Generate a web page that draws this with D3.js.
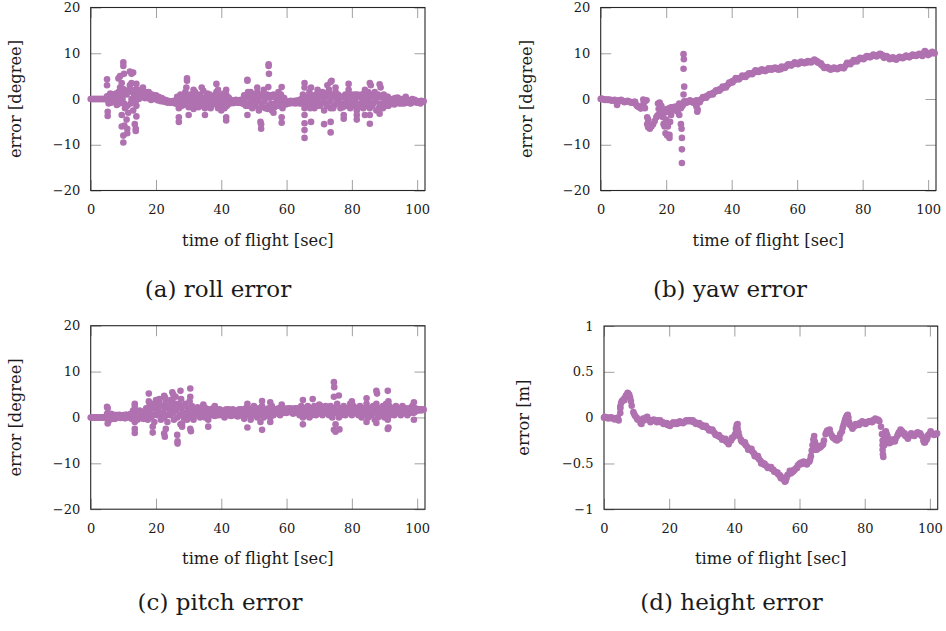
<!DOCTYPE html>
<html>
<head>
<meta charset="utf-8">
<script src="https://cdn.jsdelivr.net/npm/d3@7"></script>
<style>
  body { margin: 0; background: #fff; }
  svg text { font-family: "DejaVu Serif", serif; fill: #1a1a1a; }
  .tick line { stroke: #a0a0a0; stroke-width: 1; }
  .domain { display: none; }
  .dot { fill: #b071b0; }
</style>
</head>
<body>
<script>
// ---- data ----
var xTicks = [0, 20, 40, 60, 80, 100];
var degTicks = [-20, -10, 0, 10, 20];
var meterTicks = [-1, -0.5, 0, 0.5, 1];

// roll error [degree] : main band (two interleaved passes) + outliers
var rollBand = [
  [0,0],[0.5,0],[1,0],[1.5,0],[2,0],[2.5,0],[3,0],[3.5,0],[4,0],[4.5,0],
  [5,0.6],[5.5,-1],[6,1.2],[6.5,-0.5],[7,1],[7.5,0.2],[8,-1.3],[8.5,1.5],[9,2.5],[9.5,-0.8],
  [10,2.2],[10.5,-2],[11,1],[11.5,-3],[12,3],[12.5,0],[13,-2.5],[13.5,2],[14,-1.5],[14.5,1],
  [15,1.8],[15.5,0.5],[16,2],[16.5,0.2],[17,1],[17.5,0.6],[18,1.2],[18.5,-0.2],[19,0.8],[19.5,0],
  [20,0.8],[20.5,-0.3],[21,0.3],[21.5,-0.5],[22,0],[22.5,-0.6],[23,-0.3],[23.5,-0.8],[24,-0.5],[24.5,-0.7],
  [25,-0.8],[25.5,-0.4],[26,-1],[26.5,0.5],[27,-2],[27.5,1],[28,-1.5],[28.5,0],[29,1.5],[29.5,-1],
  [30,-1.8],[30.5,1],[31,-0.5],[31.5,-2.2],[32,1.5],[32.5,0],[33,-1.8],[33.5,1],[34,-1],[34.5,1.8],
  [35,-2],[35.5,0.5],[36,-1],[36.5,1],[37,-1.5],[37.5,0],[38,-0.5],[38.5,1.5],[39,-2],[39.5,0.8],
  [40,-1.5],[40.5,0.5],[41,-2],[41.5,1],[42,-1],[42.5,0],[43,-0.8],[43.5,-0.3],[44,-0.6],[44.5,-0.2],
  [45,-0.5],[45.5,-0.8],[46,-0.2],[46.5,-1],[47,0.8],[47.5,-1.5],[48,0.5],[48.5,-1],[49,1.5],[49.5,-2],
  [50,0],[50.5,-1.5],[51,1.5],[51.5,-2.5],[52,0.5],[52.5,-1],[53,2],[53.5,-2],[54,1],[54.5,-1.5],
  [55,0.8],[55.5,-2.5],[56,1],[56.5,-1],[57,-0.5],[57.5,1.5],[58,-1.5],[58.5,0.5],[59,-1],[59.5,-0.5],
  [60,-0.8],[60.5,-0.5],[61,-1],[61.5,-0.6],[62,-0.9],[62.5,-0.4],[63,-0.7],[63.5,-0.3],[64,-1],[64.5,0],
  [65,1],[65.5,-2],[66,0.5],[66.5,-1.5],[67,1.5],[67.5,-1],[68,0],[68.5,-2],[69,1],[69.5,-1.5],
  [70,0.5],[70.5,-1],[71,1.5],[71.5,-2.5],[72,0.5],[72.5,-1],[73,2],[73.5,-2],[74,1],[74.5,-1.5],
  [75,1.5],[75.5,-1],[76,0],[76.5,-2],[77,0.5],[77.5,-1],[78,1],[78.5,-1.5],[79,0.5],[79.5,-2],
  [80,1],[80.5,-1.5],[81,0],[81.5,-2.5],[82,0.5],[82.5,-1],[83,1],[83.5,-2],[84,0],[84.5,-1.5],
  [85,1.5],[85.5,-2],[86,0.5],[86.5,-1],[87,1.5],[87.5,-2.5],[88,1],[88.5,-1],[89,0.5],[89.5,-2],
  [90,0],[90.5,-1.5],[91,0.5],[91.5,-1],[92,-0.5],[92.5,0],[93,-1.2],[93.5,-0.5],[94,0.3],[94.5,-1],
  [95,-0.5],[95.5,0],[96,-1],[96.5,0.5],[97,-0.8],[97.5,-0.3],[98,-1],[98.5,0],[99,-0.6],[99.5,-0.4],
  [100,-0.8],[100.5,-0.5],[101,-1],[101.5,-0.6],[102,-0.5]
];
var rollBand2 = [
  [0.25,0],[0.75,0],[1.25,0],[1.75,0],[2.25,0],[2.75,0],[3.25,0],[3.75,0],[4.25,0],[4.75,0],
  [5.25,-0.3],[5.75,0.8],[6.25,-0.8],[6.75,0.5],[7.25,-0.5],[7.75,1.2],[8.25,0.3],[8.75,-1],[9.25,1],[9.75,0],
  [10.25,-1],[10.75,1.5],[11.25,-1.5],[11.75,2],[12.25,-1],[12.75,1.5],[13.25,0.5],[13.75,-0.5],[14.25,2],[14.75,0],
  [15.25,1],[15.75,2.2],[16.25,0.8],[16.75,1.5],[17.25,0.2],[17.75,1.5],[18.25,0.4],[18.75,1],[19.25,0.2],[19.75,0.5],
  [20.25,0],[20.75,0.5],[21.25,-0.2],[21.75,0.2],[22.25,-0.4],[22.75,-0.2],[23.25,-0.6],[23.75,-0.4],[24.25,-0.8],[24.75,-0.5],
  [25.25,-0.6],[25.75,-0.9],[26.25,-0.3],[26.75,-1.2],[27.25,0],[27.75,-1],[28.25,0.5],[28.75,-1.2],[29.25,-0.3],[29.75,0.8],
  [30.25,-0.5],[30.75,-1.2],[31.25,0.5],[31.75,-0.8],[32.25,-1.5],[32.75,0.8],[33.25,-0.3],[33.75,-1.5],[34.25,0.3],[34.75,-0.8],
  [35.25,-1.2],[35.75,1.2],[36.25,0],[36.75,-2],[37.25,0.5],[37.75,-1],[38.25,0.8],[38.75,-1.2],[39.25,0],[39.75,-1],
  [40.25,-0.5],[40.75,1.2],[41.25,-0.5],[41.75,-1.5],[42.25,0.3],[42.75,-1],[43.25,-0.5],[43.75,-0.9],[44.25,-0.4],[44.75,-0.8],
  [45.25,-0.3],[45.75,-0.6],[46.25,-0.9],[46.75,0],[47.25,-0.8],[47.75,0.5],[48.25,-1.5],[48.75,0.3],[49.25,-0.5],[49.75,1],
  [50.25,-1],[50.75,0.8],[51.25,-0.5],[51.75,1],[52.25,-1.8],[52.75,1],[53.25,-0.5],[53.75,0.5],[54.25,-2.2],[54.75,0.3],
  [55.25,-1],[55.75,0.5],[56.25,-1.8],[56.75,0.5],[57.25,-1.5],[57.75,-0.3],[58.25,1],[58.75,-2],[59.25,0.2],[59.75,-1.2],
  [60.25,-0.6],[60.75,-0.9],[61.25,-0.4],[61.75,-0.8],[62.25,-0.6],[62.75,-1],[63.25,-0.5],[63.75,-0.8],[64.25,-0.2],[64.75,-1],
  [65.25,-0.5],[65.75,0.5],[66.25,-1],[66.75,0],[67.25,-2],[67.75,0.8],[68.25,-1],[68.75,0.5],[69.25,-0.5],[69.75,0.5],
  [70.25,-1.5],[70.75,0.8],[71.25,-0.5],[71.75,1],[72.25,-1.5],[72.75,1.5],[73.25,-0.5],[73.75,0.5],[74.25,-2],[74.75,0.5],
  [75.25,-0.5],[75.75,1],[76.25,-1],[76.75,0.5],[77.25,-1.8],[77.75,0.3],[78.25,-0.5],[78.75,1],[79.25,-1],[79.75,0.5],
  [80.25,-0.5],[80.75,0.5],[81.25,-1],[81.75,1],[82.25,-1.8],[82.75,0.5],[83.25,-0.5],[83.75,1.2],[84.25,-1],[84.75,0.5],
  [85.25,-0.5],[85.75,1],[86.25,-1.5],[86.75,0.8],[87.25,-0.5],[87.75,0.5],[88.25,-2],[88.75,0.5],[89.25,-1],[89.75,1],
  [90.25,-0.8],[90.75,0.5],[91.25,-1.5],[91.75,0],[92.25,-1],[92.75,-0.5],[93.25,0.2],[93.75,-0.8],[94.25,-0.4],[94.75,0],
  [95.25,-1],[95.75,-0.4],[96.25,-0.6],[96.75,0],[97.25,-0.5],[97.75,-0.9],[98.25,-0.4],[98.75,-0.7],[99.25,-0.2],[99.75,-0.7],
  [100.25,-0.5],[100.75,-0.7],[101.25,-0.4],[101.75,-0.6]
];
var rollOutliers = [
  [5,4.3],[5,3],[5.2,-2.8],[5.2,-3.7],[8.5,4.5],[9,5],[9.5,3.5],[9.5,-3.5],[10,8],[10,7.2],
  [10.2,5.5],[10,-9.5],[10,-8],[10.3,-5.8],[9.5,-6],[11,-4.5],[11.2,-6.5],[11.2,-7.5],[12,6],[12.5,5.5],
  [13,5.8],[12.5,3.5],[13.5,-5.5],[13.8,-6.5],[13.8,-7],[14,-3.8],[14,3.3],[16,2.5],
  [27,-5],[27,-4],[29.5,4.5],[29.5,4],[29.3,2.5],[30,-3.5],[31.5,2],[34,2.5],[35,-3.5],[38.5,3.3],
  [39,2],[40,-2.5],[41.5,-4.7],[41.5,-4],[41.5,2],
  [48,4.2],[48,4],[48.2,1.5],[48,-3.5],[51,2.5],[52,-5],[52.2,-6.5],[52.2,-5.5],[54.5,7.6],[54.5,7.2],
  [54.6,5.5],[54.4,2.6],[56,-3],[58.5,2.6],[58.5,-5.2],[58.5,-4],
  [65.5,3.5],[65.5,2.5],[65.5,-3.5],[65.5,-5.3],[65.5,-6.8],[65.5,-8.5],[67.5,-5],[67.5,2.5],[69.5,2],
  [71.5,-5.5],[72.5,3],[73.5,-5],[73.5,-7.3],[73.8,4],[73.5,3.7],[75,2.5],[77.5,-4.3],[77.5,-3.5],
  [79,3.3],[79,2],[81.5,-4.5],[81.5,-3.5],[81,1],[84,-3.5],[84,2],[85.5,3.5],[85.8,3],[85.5,-5.4],
  [85.5,-3.5],[88.5,3.2],[88.8,2.5],[88.5,-3.2]
];

// yaw error [degree] : trace, its other edge, outliers
var yawTrace = [
  [0,0],[0.5,0],[1,-0.1],[1.5,-0.1],[2,-0.2],[2.5,-0.2],[3,-0.2],[3.5,-0.3],[4,-0.3],[4.5,-0.4],
  [5,-0.8],[5.5,-0.3],[6,-0.4],[6.5,-0.4],[7,-0.5],[7.5,-0.5],[8,-0.5],[8.5,-0.6],[9,-0.6],[9.5,-0.7],
  [10,-0.8],[10.5,-1],[11,-1.4],[11.5,-1.7],[12,-1.9],[12.5,-1.8],[13,-1.2],[13.5,-0.5],[14,-0.3],[14.5,-4.5],
  [15,-5.8],[15.5,-6],[16,-5.5],[16.5,-4.8],[17,-4],[17.5,-3.5],[18,-1],[18.5,-1.5],[19,-2.5],[19.5,-3],
  [20,-2.2],[20.5,-2.8],[21,-2],[21.5,-1.8],[22,-1.8],[22.5,-1.7],[23,-1.7],[23.5,-1.6],[24,-1.5],[24.5,-2],
  [25,-1.5],[25.5,-1],[26,-0.6],[26.5,-0.5],[27,-0.5],[27.5,-0.6],[28,-0.5],[28.5,-0.6],[29,-0.5],[29.5,-1],
  [30,-0.5],[30.5,-0.2],[31,0.1],[31.5,0.3],[32,0.5],[32.5,0.7],[33,0.8],[33.5,1],[34,1.2],[34.5,1.4],
  [35,1.6],[35.5,1.8],[36,2],[36.5,2.2],[37,2.3],[37.5,2.5],[38,2.7],[38.5,2.9],[39,3.2],[39.5,3.5],
  [40,3.8],[40.5,4],[41,4.2],[41.5,4.3],[42,4.5],[42.5,4.6],[43,4.8],[43.5,4.9],[44,5],[44.5,5.2],
  [45,5.3],[45.5,5.5],[46,5.6],[46.5,5.7],[47,5.9],[47.5,6],[48,6.1],[48.5,6.2],[49,6.2],[49.5,6.3],
  [50,6.3],[50.5,6.3],[51,6.4],[51.5,6.5],[52,6.6],[52.5,6.7],[53,6.6],[53.5,6.6],[54,6.7],[54.5,6.7],
  [55,6.5],[55.5,6.8],[56,7],[56.5,7.1],[57,7.3],[57.5,7.4],[58,7.5],[58.5,7.6],[59,7.7],[59.5,7.8],
  [60,7.8],[60.5,7.9],[61,7.9],[61.5,8],[62,8],[62.5,8],[63,8],[63.5,8.1],[64,8.2],[64.5,8.2],
  [65,8.3],[65.5,8.4],[66,8.3],[66.5,8],[67,7.7],[67.5,7.4],[68,7.1],[68.5,6.9],[69,6.8],[69.5,6.7],
  [70,6.6],[70.5,6.6],[71,6.6],[71.5,6.7],[72,6.7],[72.5,6.7],[73,6.8],[73.5,6.8],[74,6.9],[74.5,7.1],
  [75,7.5],[75.5,7.7],[76,7.8],[76.5,8],[77,8.1],[77.5,8.3],[78,8.4],[78.5,8.6],[79,8.7],[79.5,8.8],
  [80,8.9],[80.5,9],[81,9.1],[81.5,9.2],[82,9.3],[82.5,9.3],[83,9.4],[83.5,9.5],[84,9.5],[84.5,9.6],
  [85,9.6],[85.5,9.8],[86,9.6],[86.5,9],[87,9.2],[87.5,9.2],[88,9],[88.5,8.9],[89,8.9],[89.5,8.8],
  [90,8.8],[90.5,8.9],[91,9],[91.5,9],[92,9.1],[92.5,9.1],[93,9.2],[93.5,9.3],[94,9.3],[94.5,9.4],
  [95,9.4],[95.5,9.5],[96,9.6],[96.5,9.6],[97,9.6],[97.5,9.7],[98,9.6],[98.5,10],[99,10.5],[99.5,9.9],
  [100,9.6],[100.5,9.9],[101,10.1],[101.5,10],[102,10]
];
var yawEdge = [
  [0.25,0.1],[1.25,-0.2],[2.25,-0.1],[3.25,-0.35],[4.25,-0.2],[5.25,-0.6],[6.25,-0.2],[7.25,-0.7],
  [8.25,-0.4],[9.25,-0.8],[10.25,-0.6],[11.25,-1.6],[12.25,-2.1],[13.25,-0.6],
  [26.25,-0.8],[27.25,-0.3],[28.25,-0.8],[29.25,-0.3],[30.25,-0.7],[31.25,0.4],[32.25,0.3],[33.25,1.1],
  [34.25,1],[35.25,1.9],[36.25,1.8],[37.25,2.7],[38.25,2.5],[39.25,3.6],[40.25,3.6],[41.25,4.6],
  [42.25,4.3],[43.25,5.1],[44.25,4.8],[45.25,5.6],[46.25,5.4],[47.25,6.3],[48.25,5.9],[49.25,6.5],
  [50.25,6.1],[51.25,6.7],[52.25,6.4],[53.25,6.9],[54.25,6.4],[55.25,7.1],[56.25,6.8],[57.25,7.6],
  [58.25,7.3],[59.25,8],[60.25,7.6],[61.25,8.2],[62.25,7.8],[63.25,8.3],[64.25,8],[65.25,8.6],
  [66.25,8],[67.25,7.8],[68.25,6.8],[69.25,7],[70.25,6.4],[71.25,6.9],[72.25,6.5],[73.25,7],
  [74.25,6.7],[75.25,7.9],[76.25,7.6],[77.25,8.5],[78.25,8.2],[79.25,9],[80.25,8.7],[81.25,9.4],
  [82.25,9.1],[83.25,9.7],[84.25,9.3],[85.25,9.9],[86.25,9.3],[87.25,9.4],[88.25,8.7],[89.25,9.1],
  [90.25,8.6],[91.25,9.2],[92.25,8.9],[93.25,9.5],[94.25,9.1],[95.25,9.7],[96.25,9.4],[97.25,9.9],
  [98.25,9.4],[99.25,10.3],[100.25,9.8],[101.25,10.3]
];
var yawOutliers = [
  [5,-1.3],[10.5,-0.6],[13,-0.1],[13.5,-2],[14.2,-4],[14.2,-5.5],[14.5,-6.2],[15,-6.5],[17.2,-3.8],
  [17.5,-1],[17.7,-2.2],[18,-0.8],[18.5,-2.8],[19,-4],[19.2,-5.5],[19.5,-6],[19.8,-7.5],[20,-4.5],
  [20.3,-8],[20.5,-6],[21,-8.5],[21,-7.8],[21.2,-5],[21.5,-3.5],[22,-2.5],[23.5,-2.8],[24,-3.5],
  [24.5,-5.5],[24.7,-6.5],[24.8,-8.5],[24.8,-11],[24.8,-14],[25.3,9.8],[25.4,8.7],[25.3,6.6],
  [25.5,2.7],[25.3,1],[25.5,-0.5],[24,-1],[29.5,-2.8],[29.6,-2.3],[29.2,-1.6]
];

// pitch error [degree] : main band (two passes) + outliers
var pitchBand = [
  [0,0],[0.5,0],[1,0],[1.5,0],[2,0],[2.5,0],[3,0],[3.5,0],[4,0],[4.5,0],
  [5,0.8],[5.5,-0.8],[6,0.5],[6.5,0],[7,0.6],[7.5,-0.3],[8,0.5],[8.5,0],[9,0.4],[9.5,0.1],
  [10,0.5],[10.5,-0.2],[11,0.6],[11.5,0.1],[12,0.5],[12.5,-0.3],[13,1.5],[13.5,-1],[14,1.2],[14.5,0.2],
  [15,1.5],[15.5,-0.2],[16,1],[16.5,0.3],[17,2],[17.5,-0.5],[18,2.5],[18.5,0],[19,3],[19.5,-1],
  [20,2.5],[20.5,0.5],[21,3.5],[21.5,-0.5],[22,2.5],[22.5,0],[23,3.5],[23.5,-1],[24,2],[24.5,0.5],
  [25,3.5],[25.5,-0.5],[26,3],[26.5,0],[27,3],[27.5,-1.5],[28,2.5],[28.5,0],[29,3],[29.5,-0.5],
  [30,2],[30.5,0],[31,2.5],[31.5,-0.5],[32,2],[32.5,0.5],[33,2],[33.5,0],[34,1.5],[34.5,2.5],
  [35,0],[35.5,1.5],[36,-0.5],[36.5,1.8],[37,0.5],[37.5,2],[38,0.3],[38.5,1.5],[39,0.5],[39.5,1.8],
  [40,0.5],[40.5,1.5],[41,0],[41.5,1.8],[42,0.5],[42.5,1.2],[43,0.3],[43.5,1.8],[44,0.5],[44.5,1.5],
  [45,0.2],[45.5,1.8],[46,0.5],[46.5,1.2],[47,-0.3],[47.5,2],[48,0.5],[48.5,1.5],[49,-0.5],[49.5,2],
  [50,0.5],[50.5,1.5],[51,0],[51.5,2],[52,-1],[52.5,2.5],[53,0],[53.5,1.8],[54,0.5],[54.5,2],
  [55,0],[55.5,2.5],[56,0.5],[56.5,1.8],[57,1],[57.5,2],[58,0.5],[58.5,2],[59,1],[59.5,1.8],
  [60,1],[60.5,2],[61,1.2],[61.5,1.8],[62,0.8],[62.5,2],[63,1],[63.5,1.5],[64,0.5],[64.5,2.5],
  [65,0],[65.5,2],[66,0.5],[66.5,2.5],[67,0],[67.5,2],[68,1],[68.5,2.5],[69,0.5],[69.5,1.8],
  [70,1],[70.5,2.5],[71,0.5],[71.5,1.8],[72,1],[72.5,2],[73,0.5],[73.5,2.5],[74,0],[74.5,2],
  [75,-1.5],[75.5,3],[76,0],[76.5,2],[77,1],[77.5,2.5],[78,0.5],[78.5,2],[79,1],[79.5,3],
  [80,0.5],[80.5,2.5],[81,1],[81.5,2],[82,0.5],[82.5,2.5],[83,0],[83.5,2],[84,1],[84.5,3],
  [85,0],[85.5,2],[86,0.5],[86.5,2.5],[87,-0.5],[87.5,3],[88,0],[88.5,2],[89,0.5],[89.5,2.5],
  [90,0],[90.5,3],[91,-0.5],[91.5,2.5],[92,1],[92.5,2],[93,0.5],[93.5,2.5],[94,1],[94.5,2],
  [95,0.5],[95.5,2.5],[96,1],[96.5,2],[97,0.5],[97.5,2],[98,1],[98.5,2.5],[99,1],[99.5,2],
  [100,1.5],[100.5,1.8],[101,1.5],[101.5,1.7],[102,1.7]
];
var pitchBand2 = [
  [0.25,0],[0.75,0],[1.25,0],[1.75,0],[2.25,0],[2.75,0],[3.25,0],[3.75,0],[4.25,0],[4.75,0],
  [5.25,0],[5.75,0.3],[6.25,0.8],[6.75,-0.3],[7.25,0.2],[7.75,0.5],[8.25,0.1],[8.75,0.6],[9.25,-0.1],[9.75,0.4],
  [10.25,0.2],[10.75,0.6],[11.25,0],[11.75,0.4],[12.25,0.8],[12.75,0],[13.25,0.5],[13.75,1.5],[14.25,-0.5],[14.75,0.8],
  [15.25,0.3],[15.75,1.2],[16.25,-0.3],[16.75,1.5],[17.25,0.5],[17.75,1.8],[18.25,1],[18.75,2],[19.25,0.5],[19.75,2],
  [20.25,1],[20.75,1.5],[21.25,0.5],[21.75,2.5],[22.25,1],[22.75,2],[23.25,0.5],[23.75,2.8],[24.25,1],[24.75,2.5],
  [25.25,1],[25.75,2],[26.25,1.5],[26.75,2.5],[27.25,0.5],[27.75,2],[28.25,1],[28.75,2.5],[29.25,0.5],[29.75,1.5],
  [30.25,1],[30.75,1.8],[31.25,0.5],[31.75,1.5],[32.25,1],[32.75,2.2],[33.25,1],[33.75,1.5],[34.25,0.5],[34.75,1.2],
  [35.25,2],[35.75,0.5],[36.25,1.2],[36.75,0.8],[37.25,1.5],[37.75,1],[38.25,2],[38.75,0.8],[39.25,1.5],[39.75,1],
  [40.25,1.2],[40.75,0.5],[41.25,1.5],[41.75,0.8],[42.25,1.8],[42.75,0.5],[43.25,1.2],[43.75,0.8],[44.25,1.5],[44.75,0.8],
  [45.25,1.2],[45.75,0.5],[46.25,1.8],[46.75,0.8],[47.25,1.2],[47.75,0.8],[48.25,1.8],[48.75,0.5],[49.25,1.2],[49.75,0.8],
  [50.25,1.8],[50.75,1],[51.25,1.2],[51.75,0.5],[52.25,1.5],[52.75,0.8],[53.25,1.2],[53.75,0.8],[54.25,1.5],[54.75,1],
  [55.25,1.2],[55.75,1],[56.25,1.5],[56.75,1.2],[57.25,1.8],[57.75,0.8],[58.25,1.5],[58.75,1.2],[59.25,2],[59.75,1],
  [60.25,1.5],[60.75,1.2],[61.25,2],[61.75,1.5],[62.25,1.2],[62.75,1.5],[63.25,2],[63.75,1],[64.25,1.5],[64.75,1],
  [65.25,1.5],[65.75,0.8],[66.25,1.5],[66.75,1],[67.25,1.5],[67.75,0.5],[68.25,1.8],[68.75,1.2],[69.25,1.5],[69.75,0.8],
  [70.25,1.8],[70.75,1.2],[71.25,2],[71.75,1],[72.25,1.5],[72.75,0.8],[73.25,1.5],[73.75,1],[74.25,1.5],[74.75,1],
  [75.25,1.5],[75.75,1],[76.25,1.5],[76.75,0.5],[77.25,1.8],[77.75,1.2],[78.25,1.5],[78.75,1],[79.25,2],[79.75,1.5],
  [80.25,1.8],[80.75,1],[81.25,1.5],[81.75,1],[82.25,1.8],[82.75,1.2],[83.25,1.5],[83.75,0.8],[84.25,2],[84.75,1.2],
  [85.25,1.5],[85.75,0.8],[86.25,1.8],[86.75,1],[87.25,2],[87.75,1.2],[88.25,1.5],[88.75,0.5],[89.25,1.8],[89.75,1],
  [90.25,1.5],[90.75,1],[91.25,2],[91.75,0.5],[92.25,1.5],[92.75,1],[93.25,1.8],[93.75,1.2],[94.25,1.5],[94.75,1.2],
  [95.25,1.8],[95.75,1.2],[96.25,1.5],[96.75,1.3],[97.25,1.8],[97.75,1.2],[98.25,1.5],[98.75,1.8],[99.25,1.2],[99.75,1.5],
  [100.25,1.6],[100.75,1.7],[101.25,1.8],[101.75,1.6]
];
var pitchOutliers = [
  [5,2.3],[5.2,2],[5.2,-1.3],[13.5,3],[13.5,2.5],[13.5,-2.5],[13.5,-3.4],[17.8,5.2],[17.8,3.5],
  [19,-3.3],[19,-2],[20,3.8],[21,4],[22.5,4.7],[22.8,4.3],[22.5,-3.5],[22.7,-4.2],[23,-2.5],[24.5,3.8],
  [25,5.5],[25.3,5],[26,4.5],[26.5,-3.8],[26.6,-5.2],[26.6,-5.7],[27.5,5.8],[27.7,4],[28,-2],[28,-1.3],
  [30.5,6.3],[30.5,4.5],[30.3,3.5],[30.5,-2.5],[30.7,-3],[34.5,2.8],[36,-2],[38,2.5],[48,3],[48,-2.2],
  [50,2.5],[52.5,3.6],[52.5,-2.7],[55,3.3],[55,-1],[58.5,2.8],[65,3.8],[65,-1.5],[68,4],[70,2.8],
  [72,2.5],[74.5,7.7],[74.6,6.6],[74.5,4.5],[74.5,-2.7],[75,-3.1],[76,4.8],[76.2,-2.6],[80,3.5],
  [84.5,4.2],[84.5,-1],[87.5,5.8],[87.7,5.2],[87.5,-1.2],[91,5.8],[91.2,3.5],[91,-2.5],[91.2,-2.2],
  [99,3.3],[99,-0.5]
];

// height error [m] : trace, its other edge, outliers
var heightTrace = [
  [0,0],[0.5,0],[1,0],[1.5,0],[2,-0.005],[2.5,-0.005],[3,-0.01],[3.5,-0.01],[4,-0.01],[4.5,-0.03],
  [5,0.12],[5.5,0.18],[6,0.2],[6.5,0.22],[7,0.25],[7.5,0.26],[8,0.22],[8.5,0.13],[9,0.06],[9.5,0.02],
  [10,0],[10.5,-0.02],[11,-0.03],[11.5,-0.07],[12,-0.01],[12.5,-0.01],[13,0],[13.5,-0.02],[14,-0.03],[14.5,-0.03],
  [15,-0.03],[15.5,-0.03],[16,-0.04],[16.5,-0.03],[17,-0.04],[17.5,-0.05],[18,-0.05],[18.5,-0.06],[19,-0.07],[19.5,-0.08],
  [20,-0.08],[20.5,-0.07],[21,-0.07],[21.5,-0.06],[22,-0.06],[22.5,-0.05],[23,-0.06],[23.5,-0.05],[24,-0.05],[24.5,-0.05],
  [25,-0.04],[25.5,-0.04],[26,-0.03],[26.5,-0.03],[27,-0.04],[27.5,-0.05],[28,-0.05],[28.5,-0.06],[29,-0.07],[29.5,-0.08],
  [30,-0.08],[30.5,-0.09],[31,-0.1],[31.5,-0.11],[32,-0.12],[32.5,-0.13],[33,-0.14],[33.5,-0.15],[34,-0.17],[34.5,-0.19],
  [35,-0.2],[35.5,-0.21],[36,-0.22],[36.5,-0.23],[37,-0.24],[37.5,-0.26],[38,-0.27],[38.5,-0.26],[39,-0.25],[39.5,-0.22],
  [40,-0.2],[40.5,-0.12],[41,-0.07],[41.5,-0.2],[42,-0.24],[42.5,-0.26],[43,-0.28],[43.5,-0.3],[44,-0.32],[44.5,-0.34],
  [45,-0.35],[45.5,-0.37],[46,-0.39],[46.5,-0.41],[47,-0.43],[47.5,-0.45],[48,-0.47],[48.5,-0.49],[49,-0.51],[49.5,-0.52],
  [50,-0.53],[50.5,-0.54],[51,-0.55],[51.5,-0.56],[52,-0.57],[52.5,-0.59],[53,-0.6],[53.5,-0.62],[54,-0.63],[54.5,-0.65],
  [55,-0.67],[55.5,-0.7],[56,-0.66],[56.5,-0.62],[57,-0.58],[57.5,-0.6],[58,-0.59],[58.5,-0.57],[59,-0.55],[59.5,-0.52],
  [60,-0.5],[60.5,-0.49],[61,-0.5],[61.5,-0.5],[62,-0.49],[62.5,-0.49],[63,-0.48],[63.5,-0.42],[64,-0.3],[64.5,-0.2],
  [65,-0.3],[65.5,-0.34],[66,-0.33],[66.5,-0.32],[67,-0.3],[67.5,-0.25],[68,-0.18],[68.5,-0.14],[69,-0.15],[69.5,-0.17],
  [70,-0.2],[70.5,-0.22],[71,-0.24],[71.5,-0.25],[72,-0.22],[72.5,-0.18],[73,-0.15],[73.5,-0.08],[74,-0.02],[74.5,0.02],
  [75,0],[75.5,-0.08],[76,-0.1],[76.5,-0.1],[77,-0.09],[77.5,-0.08],[78,-0.07],[78.5,-0.06],[79,-0.06],[79.5,-0.05],
  [80,-0.05],[80.5,-0.05],[81,-0.05],[81.5,-0.04],[82,-0.04],[82.5,-0.03],[83,-0.03],[83.5,-0.02],[84,-0.02],[84.5,-0.04],
  [85,-0.1],[85.5,-0.3],[86,-0.2],[86.5,-0.15],[87,-0.2],[87.5,-0.28],[88,-0.27],[88.5,-0.25],[89,-0.24],[89.5,-0.23],
  [90,-0.2],[90.5,-0.16],[91,-0.13],[91.5,-0.15],[92,-0.18],[92.5,-0.2],[93,-0.21],[93.5,-0.21],[94,-0.19],[94.5,-0.18],
  [95,-0.18],[95.5,-0.18],[96,-0.17],[96.5,-0.17],[97,-0.17],[97.5,-0.2],[98,-0.25],[98.5,-0.27],[99,-0.24],[99.5,-0.19],
  [100,-0.17],[100.5,-0.17],[101,-0.18],[101.5,-0.18],[102,-0.18]
];
var heightEdge = [
  [0.25,0.01],[1.25,-0.01],[2.25,0.005],[3.25,-0.02],[4.25,0],[5.25,0.16],[6.25,0.19],[6.75,0.24],
  [7.25,0.27],[7.75,0.25],[8.25,0.18],[9.25,0.04],[10.25,-0.02],[11.25,-0.06],[12.25,-0.03],[13.25,0.01],
  [14.25,-0.05],[15.25,-0.02],[16.25,-0.05],[17.25,-0.03],[18.25,-0.07],[19.25,-0.06],[20.25,-0.09],[21.25,-0.05],
  [22.25,-0.07],[23.25,-0.04],[24.25,-0.06],[25.25,-0.03],[26.25,-0.04],[27.25,-0.03],[28.25,-0.07],[29.25,-0.06],
  [30.25,-0.1],[31.25,-0.09],[32.25,-0.14],[33.25,-0.13],[34.25,-0.19],[35.25,-0.19],[36.25,-0.24],[37.25,-0.23],
  [38.25,-0.29],[39.25,-0.22],[40.25,-0.18],[40.75,-0.08],[41.25,-0.16],[42.25,-0.26],[43.25,-0.27],[44.25,-0.35],
  [45.25,-0.34],[46.25,-0.42],[47.25,-0.42],[48.25,-0.5],[49.25,-0.5],[50.25,-0.55],[51.25,-0.54],[52.25,-0.59],
  [53.25,-0.6],[54.25,-0.66],[55.25,-0.68],[55.75,-0.69],[56.25,-0.63],[57.25,-0.61],[58.25,-0.57],[59.25,-0.55],
  [60.25,-0.51],[61.25,-0.48],[62.25,-0.51],[63.25,-0.46],[63.75,-0.36],[64.25,-0.24],[64.75,-0.27],[65.25,-0.35],
  [66.25,-0.31],[67.25,-0.29],[68.25,-0.16],[69.25,-0.13],[70.25,-0.22],[71.25,-0.23],[72.25,-0.23],[73.25,-0.11],
  [73.75,-0.05],[74.25,0],[75.25,-0.05],[76.25,-0.12],[77.25,-0.07],[78.25,-0.08],[79.25,-0.04],[80.25,-0.07],
  [81.25,-0.04],[82.25,-0.05],[83.25,-0.01],[84.25,-0.03],[85.75,-0.26],[86.25,-0.16],[86.75,-0.18],[87.25,-0.25],
  [88.25,-0.24],[89.25,-0.26],[90.25,-0.18],[91.25,-0.15],[92.25,-0.17],[93.25,-0.23],[94.25,-0.17],[95.25,-0.2],
  [96.25,-0.16],[97.25,-0.19],[98.25,-0.27],[99.25,-0.22],[100.25,-0.15],[101.25,-0.19],[102.2,-0.17]
];
var heightOutliers = [
  [5,0.05],[5,0.1],[40.8,-0.09],[40.7,-0.15],[41,-0.12],[64.5,-0.25],[64.8,-0.35],[74.3,-0.05],[74.8,0.03],
  [85.3,-0.18],[85.5,-0.25],[85.5,-0.35],[85.6,-0.4],[85.7,-0.43],[86,-0.3]
];

// ---- layout ----
var W = 946, H = 631;
var svg = d3.select("body").append("svg").attr("width", W).attr("height", H);

var panels = [
  { pts: rollBand.concat(rollBand2, rollOutliers), yTicks: degTicks, yDom: [-20, 20], left: 90.7, top: 7.5, w: 334.3, h: 183,
    ylabel: "error [degree]", ylabOff: 70, caption: "(a) roll error", capX: 218, capY: 297 },
  { pts: yawTrace.concat(yawEdge, yawOutliers), yTicks: degTicks, yDom: [-20, 20], left: 600.7, top: 7.5, w: 335.3, h: 183,
    ylabel: "error [degree]", ylabOff: 69, caption: "(b) yaw error", capX: 730, capY: 297 },
  { pts: pitchBand.concat(pitchBand2, pitchOutliers), yTicks: degTicks, yDom: [-20, 20], left: 90.7, top: 325.7, w: 334.3, h: 183.5,
    ylabel: "error [degree]", ylabOff: 70, caption: "(c) pitch error", capX: 220, capY: 610 },
  { pts: heightTrace.concat(heightEdge, heightOutliers), yTicks: meterTicks, yDom: [-1, 1], left: 604, top: 326, w: 333.7, h: 183.3,
    ylabel: "error [m]", ylabOff: 75, caption: "(d) height error", capX: 731.5, capY: 610 }
];

var fmt = d3.format("");

panels.forEach(function(p) {
  var x = d3.scaleLinear().domain([0, 102.4]).range([0, p.w]);
  var y = d3.scaleLinear().domain(p.yDom).range([p.h, 0]);

  var g = svg.append("g").attr("transform", "translate(" + p.left + "," + p.top + ")");

  // ticks on all four sides, pointing inward
  g.append("g").attr("transform", "translate(0," + p.h + ")")
    .call(d3.axisBottom(x).tickValues(xTicks).tickSizeInner(-10.5).tickSizeOuter(0).tickPadding(14.3).tickFormat(fmt));
  g.append("g")
    .call(d3.axisTop(x).tickValues(xTicks).tickSizeInner(-10.5).tickSizeOuter(0).tickFormat(""));
  g.append("g")
    .call(d3.axisLeft(y).tickValues(p.yTicks).tickSizeInner(-10.5).tickSizeOuter(0).tickPadding(10.5).tickFormat(fmt));
  g.append("g").attr("transform", "translate(" + p.w + ",0)")
    .call(d3.axisRight(y).tickValues(p.yTicks).tickSizeInner(-10.5).tickSizeOuter(0).tickFormat(""));

  g.selectAll(".tick text")
    .attr("font-family", "DejaVu Serif")
    .attr("font-size", 13)
    .attr("fill", "#1a1a1a");

  // frame
  g.append("rect")
    .attr("width", p.w).attr("height", p.h)
    .attr("fill", "none").attr("stroke", "#262626").attr("stroke-width", 1.1);

  // dots
  g.selectAll("circle").data(p.pts).enter().append("circle")
    .attr("class", "dot")
    .attr("cx", function(d) { return x(d[0]); })
    .attr("cy", function(d) { return y(d[1]); })
    .attr("r", 3.3);

  // axis labels
  g.append("text")
    .attr("x", p.w / 2).attr("y", p.h + 55)
    .attr("text-anchor", "middle").attr("font-size", 16.3)
    .text("time of flight [sec]");
  g.append("text")
    .attr("transform", "translate(" + (-p.ylabOff) + "," + (p.h / 2) + ") rotate(-90)")
    .attr("text-anchor", "middle").attr("font-size", 16.3)
    .text(p.ylabel);

  // caption
  svg.append("text")
    .attr("x", p.capX).attr("y", p.capY)
    .attr("text-anchor", "middle").attr("font-size", 23)
    .text(p.caption);
});
</script>
</body>
</html>
